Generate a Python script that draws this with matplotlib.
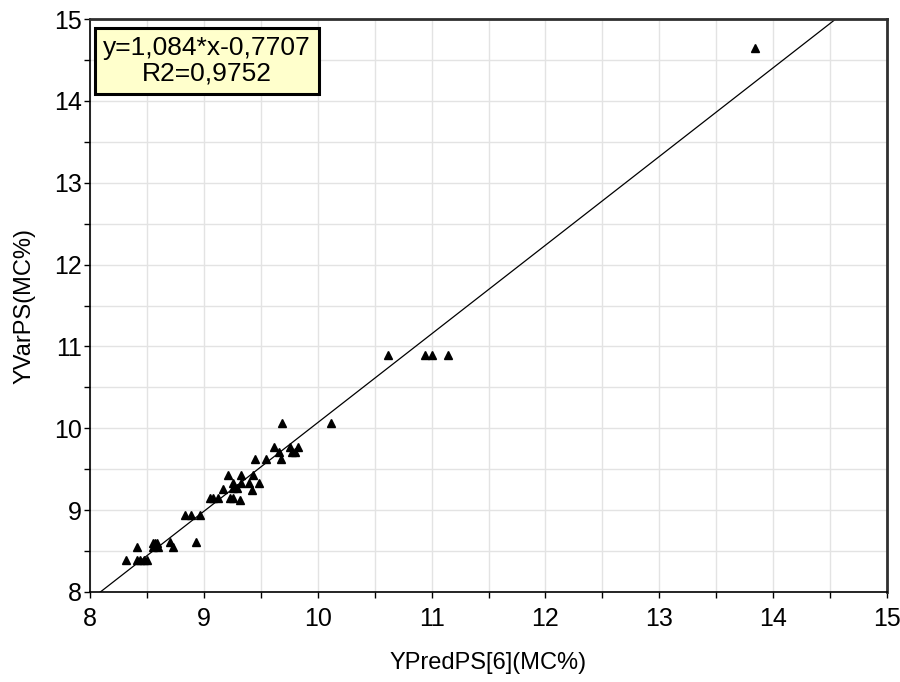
import matplotlib
matplotlib.use("Agg")
import matplotlib.pyplot as plt
from matplotlib.ticker import MultipleLocator

plt.rcParams['font.family'] = ['Liberation Sans', 'DejaVu Sans']

x_pred = [8.32, 8.41, 8.41, 8.44, 8.47, 8.50,
          8.55, 8.57, 8.59, 8.60, 8.57, 8.55,
          8.70, 8.73, 8.93, 8.83, 8.89, 8.97,
          9.05, 9.08, 9.12, 9.17, 9.21, 9.23, 9.26, 9.26, 9.29, 9.26,
          9.32, 9.33, 9.33, 9.40, 9.42, 9.43, 9.48, 9.45, 9.55, 9.62,
          9.68, 9.66, 9.69, 9.76, 9.77, 9.80, 9.83, 10.12,
          10.62, 10.94, 11.00, 11.14, 13.84]
y_var = [8.39, 8.55, 8.39, 8.39, 8.39, 8.39,
         8.60, 8.56, 8.60, 8.55, 8.60, 8.55,
         8.61, 8.55, 8.61, 8.94, 8.94, 8.94,
         9.15, 9.15, 9.15, 9.26, 9.43, 9.15, 9.15, 9.33, 9.27, 9.27,
         9.12, 9.43, 9.33, 9.33, 9.25, 9.43, 9.33, 9.62, 9.62, 9.77,
         9.62, 9.71, 10.07, 9.77, 9.71, 9.71, 9.77, 10.07,
         10.89, 10.89, 10.89, 10.89, 14.65]

slope = 1.084
intercept = -0.7707
r2 = 0.9752
fit_x = [8.0, 15.0]
fit_y = [slope * v + intercept for v in fit_x]

fig = plt.figure(figsize=(9, 6.82), dpi=100)
ax = fig.add_axes([0.1, 0.132, 0.8856, 0.840])

ax.set_xlim(8, 15)
ax.set_ylim(8, 15)
ax.xaxis.set_major_locator(MultipleLocator(1))
ax.yaxis.set_major_locator(MultipleLocator(1))
ax.xaxis.set_minor_locator(MultipleLocator(0.5))
ax.yaxis.set_minor_locator(MultipleLocator(0.5))
ax.grid(True, which='both', color='#e3e3e3', linewidth=1.0)
ax.set_axisbelow(True)

ax.plot(fit_x, fit_y, color='black', linewidth=0.9, zorder=2)
ax.plot(x_pred, y_var, linestyle='none', marker='^', markersize=6,
        color='black', zorder=3)

ax.tick_params(which='both', direction='out', length=4, width=1,
               labelsize=18, color='black')
ax.tick_params(axis='x', pad=7)
ax.tick_params(axis='y', pad=2)
for s in ['left', 'bottom']:
    ax.spines[s].set_color('black')
    ax.spines[s].set_linewidth(1.2)
for s in ['top', 'right']:
    ax.spines[s].set_color('#303030')
    ax.spines[s].set_linewidth(2)

ax.set_xlabel('YPredPS[6](MC%)', fontsize=17, labelpad=15)
ax.set_ylabel('YVarPS(MC%)', fontsize=17, labelpad=13)

txt = f"y={slope:.3f}*x{intercept:.4f}\nR2={r2:.4f}".replace('.', ',')
ax.text(0.147, 0.927, txt, transform=ax.transAxes, ha='center', va='center',
        multialignment='center', fontsize=19, linespacing=1.1,
        bbox=dict(boxstyle='square,pad=0.3', facecolor='#ffffcc',
                  edgecolor='black', linewidth=2.2), zorder=5)

fig.savefig('out.png', dpi=100)
